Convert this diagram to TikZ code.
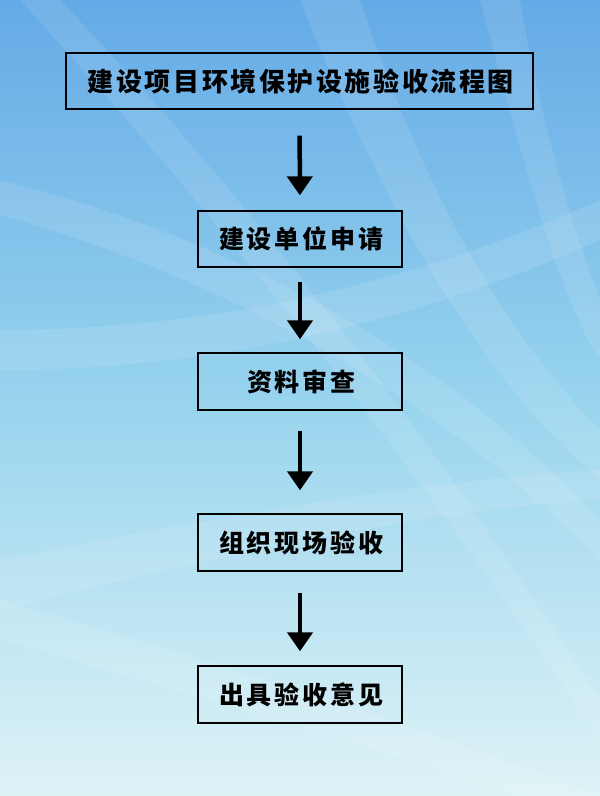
\documentclass[tikz,border=0pt]{standalone}
\usepackage{fontspec}
\newfontfamily\cjktitle{Noto Sans CJK SC}[LetterSpace=10]
\newfontfamily\cjk{Noto Sans CJK SC}[LetterSpace=12]
\usetikzlibrary{arrows.meta}
\definecolor{bgtop}{RGB}{100,170,230}
\definecolor{bgmid}{RGB}{152,212,238}
\definecolor{bgbot}{RGB}{222,243,246}
\tikzset{
  stepbox/.style={draw=black, line width=1.4pt, rectangle, inner sep=0pt,
    minimum width=204pt, minimum height=56pt, font=\cjk\bfseries\fontsize{25}{25}\selectfont},
  titlebox/.style={stepbox, minimum width=467pt, font=\cjktitle\bfseries\fontsize{26}{26}\selectfont},
  flowarrow/.style={line width=4.5pt, -{Triangle[width=25pt,length=19pt]}},
  ray/.style={fill=white, opacity=0.1}
}
\begin{document}
\begin{tikzpicture}[x=1pt,y=-1pt]
\useasboundingbox (0,0) rectangle (600,796);
% background
\shade[top color=bgtop, bottom color=bgmid] (0,0) rectangle (600,400);
\shade[top color=bgmid, bottom color=bgbot] (0,400) rectangle (600,796);
% light streaks
\fill[ray] (0,180) .. controls (200,230) and (420,330) .. (600,520) -- (600,560) .. controls (420,380) and (200,270) .. (0,215) -- cycle;
\fill[ray] (0,330) .. controls (220,330) and (420,280) .. (600,200) -- (600,240) .. controls (420,320) and (220,370) .. (0,370) -- cycle;
\fill[ray] (0,560) .. controls (200,520) and (420,480) .. (600,470) -- (600,500) .. controls (420,510) and (200,560) .. (0,610) -- cycle;
\fill[ray] (60,0) .. controls (250,200) and (420,420) .. (600,700) -- (600,740) .. controls (400,440) and (220,220) .. (20,0) -- cycle;
\fill[ray] (300,0) .. controls (380,200) and (480,380) .. (600,480) -- (600,430) .. controls (500,330) and (420,180) .. (360,0) -- cycle;
\fill[ray] (0,640) .. controls (180,690) and (380,750) .. (520,796) -- (600,796) .. controls (400,720) and (180,650) .. (0,600) -- cycle;
\fill[ray] (480,0) .. controls (520,150) and (560,300) .. (600,360) -- (600,300) .. controls (570,220) and (540,120) .. (520,0) -- cycle;
% nodes
\node[titlebox] (title) at (299.5,81) {\hspace{2.6pt}建设项目环境保护设施验收流程图};
\node[stepbox] (apply) at (300,239) {\hspace{3pt}建设单位申请};
\node[stepbox, minimum height=57pt] (review) at (300,381.5) {\hspace{3pt}资料审查};
\node[stepbox, minimum height=57pt] (inspect) at (300,542.5) {\hspace{3pt}组织现场验收};
\node[stepbox, minimum height=57pt] (opinion) at (300,694.5) {\hspace{3pt}出具验收意见};
% arrows
\draw[flowarrow, shorten <=26pt, shorten >=15pt] (title) -- (apply);
\draw[flowarrow, shorten <=14pt, shorten >=13pt] (apply) -- (review);
\draw[flowarrow, shorten <=20pt, shorten >=23pt] (review) -- (inspect);
\draw[flowarrow, shorten <=21pt, shorten >=14pt] (inspect) -- (opinion);
\end{tikzpicture}
\end{document}
